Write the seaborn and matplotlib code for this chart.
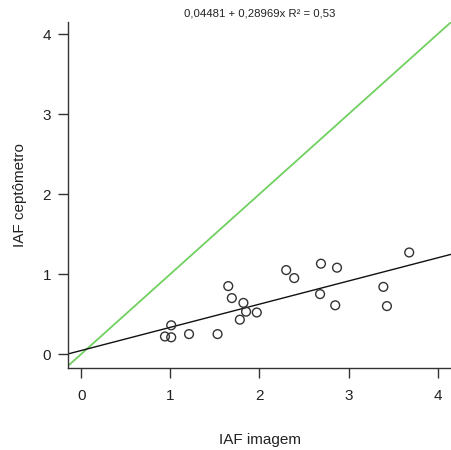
import pandas as pd
import matplotlib
matplotlib.use("Agg")
import matplotlib.pyplot as plt
import seaborn as sns

# IAF imagem vs IAF ceptometro
iaf_imagem = [0.94, 1.01, 1.01, 1.21, 1.53, 1.65, 1.69, 1.82, 1.85, 1.78,
              1.97, 2.30, 2.39, 2.69, 2.68, 2.87, 2.85, 3.39, 3.43, 3.68]
iaf_ceptometro = [0.22, 0.21, 0.36, 0.25, 0.25, 0.85, 0.70, 0.64, 0.53, 0.43,
                  0.52, 1.05, 0.95, 1.13, 0.75, 1.08, 0.61, 0.84, 0.60, 1.27]

intercept = 0.04481
slope = 0.28969
r2 = 0.53

x_ticks = [0, 1, 2, 3, 4]
y_ticks = [0, 1, 2, 3, 4]


def plot_iaf():
    sns.set_style("ticks")
    plt.rcParams['font.family'] = ['Liberation Sans', 'DejaVu Sans']

    df = pd.DataFrame({'imagem': iaf_imagem, 'ceptometro': iaf_ceptometro})

    fig = plt.figure(figsize=(4.52, 4.5), dpi=100)
    ax = fig.add_axes([0.150, 0.182, 0.850, 0.769])

    sns.scatterplot(data=df, x='imagem', y='ceptometro', ax=ax,
                    facecolor='none', edgecolor='#333333', linewidth=1.0,
                    s=40, zorder=3)

    # 1:1 line and fitted line
    ax.axline((0, 0), slope=1, color='#70d060', lw=1.3, zorder=2)
    ax.axline((0, intercept), slope=slope, color='#111111', lw=1.0, zorder=2)

    ax.set_xlim(-0.15, 4.16)
    ax.set_ylim(-0.175, 4.15)
    ax.set_xticks(x_ticks)
    ax.set_yticks(y_ticks)
    ax.tick_params(axis='both', labelsize=11, length=7, width=1,
                   color='#333333', labelcolor='#222222', pad=5)
    ax.tick_params(axis='x', pad=8)
    for side in ['top', 'right']:
        ax.spines[side].set_visible(False)
    for side in ['left', 'bottom']:
        ax.spines[side].set_color('#333333')
        ax.spines[side].set_linewidth(1.0)

    ax.set_xlabel('IAF imagem', fontsize=11, labelpad=22, color='#222222')
    ax.set_ylabel('IAF ceptômetro', fontsize=11, labelpad=11, color='#222222')
    ax.set_title(f'0,04481 + 0,28969x R² = 0,53', fontsize=8.2, pad=4,
                 color='#222222')

    fig.savefig('out.png', dpi=100)


if __name__ == "__main__":
    plot_iaf()
